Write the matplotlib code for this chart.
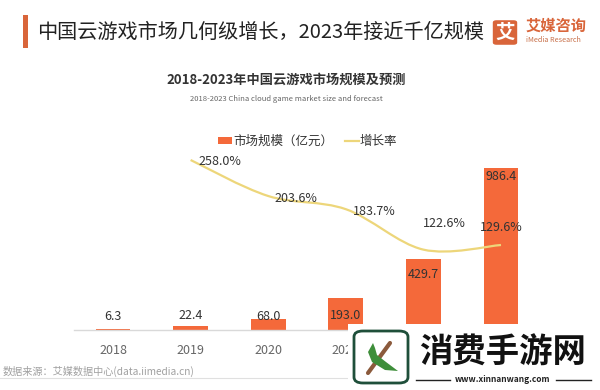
import matplotlib
matplotlib.use("Agg")
import matplotlib.pyplot as plt
import numpy as np
from matplotlib.path import Path
from matplotlib.patches import PathPatch, Rectangle, FancyBboxPatch, Polygon

plt.rcParams['font.family'] = ['Noto Sans CJK SC', 'DejaVu Sans']

years = ['2018', '2019', '2020', '2021', '2022', '2023']
market = [6.3, 22.4, 68.0, 193.0, 429.7, 986.4]
growth_years = ['2019', '2020', '2021', '2022', '2023']
growth = [258.0, 203.6, 183.7, 122.6, 129.6]

title = '中国云游戏市场几何级增长，2023年接近千亿规模'
subtitle = '2018-2023年中国云游戏市场规模及预测'
subtitle_en = '2018-2023 China cloud game market size and forecast'
legend_bar = '市场规模（亿元）'
legend_line = '增长率'
source = '数据来源：艾媒数据中心(data.iimedia.cn)'

W, H = 600, 390
BAR = '#F4693A'
LINE = '#EDD67A'

def fx(x):
    return x / W

def fy(y):
    return 1 - y / H

fig = plt.figure(figsize=(6, 3.9), dpi=100)
fig.patch.set_facecolor('white')

ax = fig.add_axes([fx(74.2), fy(330), 465.6 / W, 180 / H])
x = np.arange(len(years))
ax.bar(x, market, width=0.45, color=BAR, zorder=2)
ax.set_xlim(-0.5, len(years) - 0.5)
ax.set_ylim(0, 1096)
ax.set_xticks(x)
ax.set_xticklabels(years, fontsize=9, color='#666666')
ax.tick_params(axis='x', length=0, pad=10)
ax.set_yticks([])
for s in ['left', 'right', 'top']:
    ax.spines[s].set_visible(False)
ax.spines['bottom'].set_color('#d9d9d9')
ax.spines['bottom'].set_linewidth(1)
ax.patch.set_alpha(0)

bar_label_dy = [12, 11, 2, -17, -15, -9]
for i, v in enumerate(market):
    ax.annotate(f'{v:.1f}', (i, v), xytext=(0, bar_label_dy[i]),
                textcoords='offset pixels', ha='center', va='center',
                fontsize=9, color='#333333', zorder=4)

ax2 = ax.twinx()
ax2.set_ylim(1.2, 273.1)
ax2.axis('off')
gx = np.array([years.index(y) for y in growth_years], dtype=float)
gy = np.array(growth, dtype=float)
# smooth curve (Catmull-Rom as cubic Bezier segments)
verts = [(gx[0], gy[0])]
codes = [Path.MOVETO]
n = len(gx)
for i in range(n - 1):
    p0 = (gx[max(i - 1, 0)], gy[max(i - 1, 0)])
    p1 = (gx[i], gy[i])
    p2 = (gx[i + 1], gy[i + 1])
    p3 = (gx[min(i + 2, n - 1)], gy[min(i + 2, n - 1)])
    c1 = (p1[0] + (p2[0] - p0[0]) / 6, p1[1] + (p2[1] - p0[1]) / 6)
    c2 = (p2[0] - (p3[0] - p1[0]) / 6, p2[1] - (p3[1] - p1[1]) / 6)
    verts += [c1, c2, p2]
    codes += [Path.CURVE4] * 3
ax2.add_patch(PathPatch(Path(verts, codes), facecolor='none', edgecolor=LINE,
                        lw=1.6, zorder=3))
growth_dx = [29, 28, 28, 21, 0]
growth_dy = [-2, -2, -2, 26, 17]
for i, v in enumerate(growth):
    ax2.annotate(f'{v:.1f}%', (gx[i], v), xytext=(growth_dx[i], growth_dy[i]),
                 textcoords='offset pixels', ha='center', va='center',
                 fontsize=9, color='#333333', zorder=4)

# legend (manual)
fig.patches.append(Rectangle((fx(218), fy(144)), 14 / W, 7 / H, transform=fig.transFigure,
                             facecolor=BAR, edgecolor='none'))
fig.text(fx(233), fy(141), legend_bar, fontsize=9, color='#333333', va='center', ha='left')
fig.lines.append(plt.Line2D([fx(345), fx(359)], [fy(141), fy(141)], transform=fig.transFigure,
                            color=LINE, lw=1.6))
fig.text(fx(360), fy(141), legend_line, fontsize=9, color='#333333', va='center', ha='left')

# titles
fig.patches.append(Rectangle((fx(23), fy(48)), 5 / W, 33 / H, transform=fig.transFigure,
                             facecolor='#D9653A', edgecolor='none'))
fig.text(fx(37), fy(32), title, fontsize=14.5, color='#222222', va='center', ha='left',
         fontweight='medium')
fig.text(fx(286), fy(80), subtitle, fontsize=9.5, color='#333333', va='center', ha='center',
         fontweight='bold')
fig.text(fx(286), fy(99), subtitle_en, fontsize=5.5, color='#666666', va='center', ha='center')

# logo
fig.patches.append(FancyBboxPatch((fx(494), fy(44)), 22 / W, 23 / H, transform=fig.transFigure,
                                  boxstyle='round,pad=0.002,rounding_size=0.006',
                                  facecolor='#D9653A', edgecolor='none'))
fig.text(fx(505), fy(33), '艾', fontsize=14, color='white', va='center', ha='center',
         fontweight='bold')
fig.text(fx(526), fy(26), '艾媒咨询', fontsize=11, color='#D9653A', va='center', ha='left',
         fontweight='bold')
fig.text(fx(526), fy(40), 'iMedia Research', fontsize=5.2, color='#C8704A', va='center', ha='left')

# source
fig.text(fx(3), fy(371), source, fontsize=7.3, color='#A0A0A0', va='center', ha='left')
fig.lines.append(plt.Line2D([0, fx(560)], [fy(378), fy(378)], transform=fig.transFigure,
                            color='#e0e0e0', lw=0.8))

# watermark overlay
fig.patches.append(Rectangle((fx(348), 0), 252 / W, 66 / H, transform=fig.transFigure,
                             facecolor='white', edgecolor='none', zorder=10))
fig.patches.append(FancyBboxPatch((fx(354), fy(383)), 54 / W, 52 / H, transform=fig.transFigure,
                                  boxstyle='round,pad=0,rounding_size=0.015',
                                  facecolor='white', edgecolor='#1F4F3A', lw=2, zorder=11))
fig.lines.append(plt.Line2D([fx(368), fx(390)], [fy(373), fy(343)], transform=fig.transFigure,
                            color='#8B5A3C', lw=3, zorder=12, solid_capstyle='round'))
leaf = Polygon([(fx(373), fy(343)), (fx(368), fy(352)), (fx(372), fy(362)), (fx(385), fy(370)),
                (fx(398), fy(371)), (fx(386), fy(362)), (fx(377), fy(355)), (fx(375), fy(348))],
               closed=True, transform=fig.transFigure, facecolor='#3E8E3A', edgecolor='none',
               zorder=12)
fig.patches.append(leaf)
fig.text(fx(503), fy(353), '消费手游网', fontsize=24, color='#111111', va='center', ha='center',
         fontweight='bold', zorder=12)
fig.lines.append(plt.Line2D([fx(416), fx(450)], [fy(380), fy(380)], transform=fig.transFigure,
                            color='#222222', lw=1, zorder=12))
fig.lines.append(plt.Line2D([fx(556), fx(591)], [fy(380), fy(380)], transform=fig.transFigure,
                            color='#222222', lw=1, zorder=12))
fig.text(fx(503), fy(380), 'www.xinnanwang.com', fontsize=6, color='#222222', va='center',
         ha='center', zorder=12, fontweight='bold')

fig.savefig('out.png', dpi=100)
